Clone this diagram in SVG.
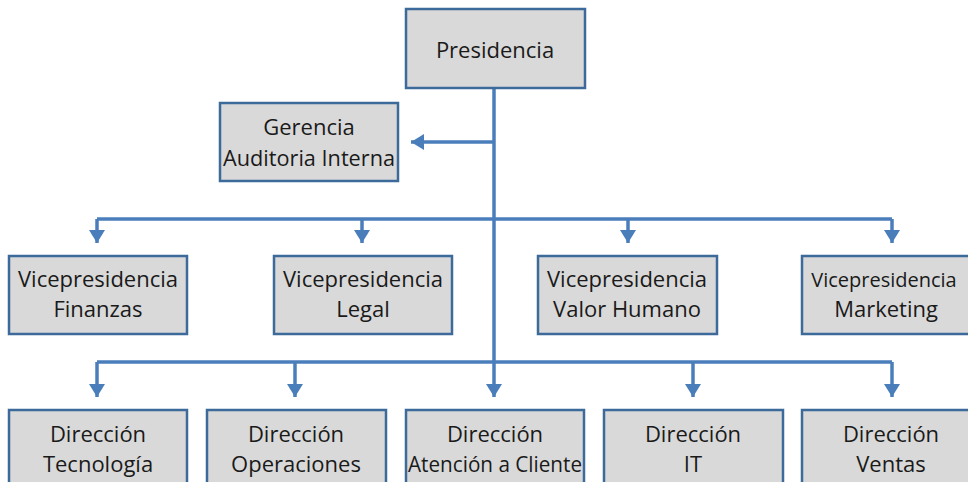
<svg xmlns="http://www.w3.org/2000/svg" width="968" height="482" viewBox="0 0 968 482">
<style>
.box{fill:#d9d9d9;stroke:#3c6a9a;stroke-width:2.5}
.t{font-family:"Open Sans","Noto Sans",sans-serif;font-size:22px;fill:#1a1a1a;text-anchor:middle}
.c{fill:none;stroke:#4a7ebb;stroke-width:3.5;stroke-linejoin:miter}
</style>
<defs>
<marker id="ah" markerUnits="userSpaceOnUse" markerWidth="14" markerHeight="18" refX="13" refY="8" orient="auto">
<path d="M0,0 L13,8 L0,16 Z" fill="#4a7ebb"/>
</marker>
</defs>
<rect width="968" height="482" fill="#ffffff"/>
<g id="connectors">
<path class="c" d="M494,88 V397" marker-end="url(#ah)"/>
<path class="c" d="M494,142 H411" marker-end="url(#ah)"/>
<path class="c" d="M97,219 H892"/>
<path class="c" d="M97,219 V243" marker-end="url(#ah)"/>
<path class="c" d="M362,219 V243" marker-end="url(#ah)"/>
<path class="c" d="M628,219 V243" marker-end="url(#ah)"/>
<path class="c" d="M892,219 V243" marker-end="url(#ah)"/>
<path class="c" d="M97,362 H892"/>
<path class="c" d="M97,362 V397" marker-end="url(#ah)"/>
<path class="c" d="M295,362 V397" marker-end="url(#ah)"/>
<path class="c" d="M693,362 V397" marker-end="url(#ah)"/>
<path class="c" d="M892,362 V397" marker-end="url(#ah)"/>
</g>
<g id="presidencia"><rect class="box" x="406" y="9" width="179" height="79"/><text class="t" x="495" y="58">Presidencia</text></g>
<g id="gerencia"><rect class="box" x="220" y="103" width="178" height="78"/><text class="t" x="309" y="135">Gerencia</text><text class="t" x="309" y="166" textLength="172" lengthAdjust="spacingAndGlyphs">Auditoria Interna</text></g>
<g id="vp-finanzas"><rect class="box" x="9" y="256" width="178" height="78"/><text class="t" x="98" y="287">Vicepresidencia</text><text class="t" x="98" y="317">Finanzas</text></g>
<g id="vp-legal"><rect class="box" x="274" y="256" width="178" height="78"/><text class="t" x="363" y="287">Vicepresidencia</text><text class="t" x="363" y="317">Legal</text></g>
<g id="vp-valor-humano"><rect class="box" x="538" y="256" width="179" height="78"/><text class="t" x="627" y="287">Vicepresidencia</text><text class="t" x="627" y="317">Valor Humano</text></g>
<g id="vp-marketing"><rect class="box" x="802" y="256" width="179" height="78"/><text class="t" x="884" y="287" style="font-size:20px">Vicepresidencia</text><text class="t" x="886" y="317">Marketing</text></g>
<g id="dir-tecnologia"><rect class="box" x="9" y="410" width="178" height="90"/><text class="t" x="98" y="442">Dirección</text><text class="t" x="98" y="472">Tecnología</text></g>
<g id="dir-operaciones"><rect class="box" x="207" y="410" width="179" height="90"/><text class="t" x="296" y="442">Dirección</text><text class="t" x="296" y="472">Operaciones</text></g>
<g id="dir-atencion"><rect class="box" x="406" y="410" width="178" height="90"/><text class="t" x="495" y="442">Dirección</text><text class="t" x="495" y="472" textLength="174" lengthAdjust="spacingAndGlyphs">Atención a Cliente</text></g>
<g id="dir-it"><rect class="box" x="604" y="410" width="179" height="90"/><text class="t" x="693" y="442">Dirección</text><text class="t" x="693" y="472">IT</text></g>
<g id="dir-ventas"><rect class="box" x="802" y="410" width="179" height="90"/><text class="t" x="891" y="442">Dirección</text><text class="t" x="891" y="472">Ventas</text></g>
</svg>
